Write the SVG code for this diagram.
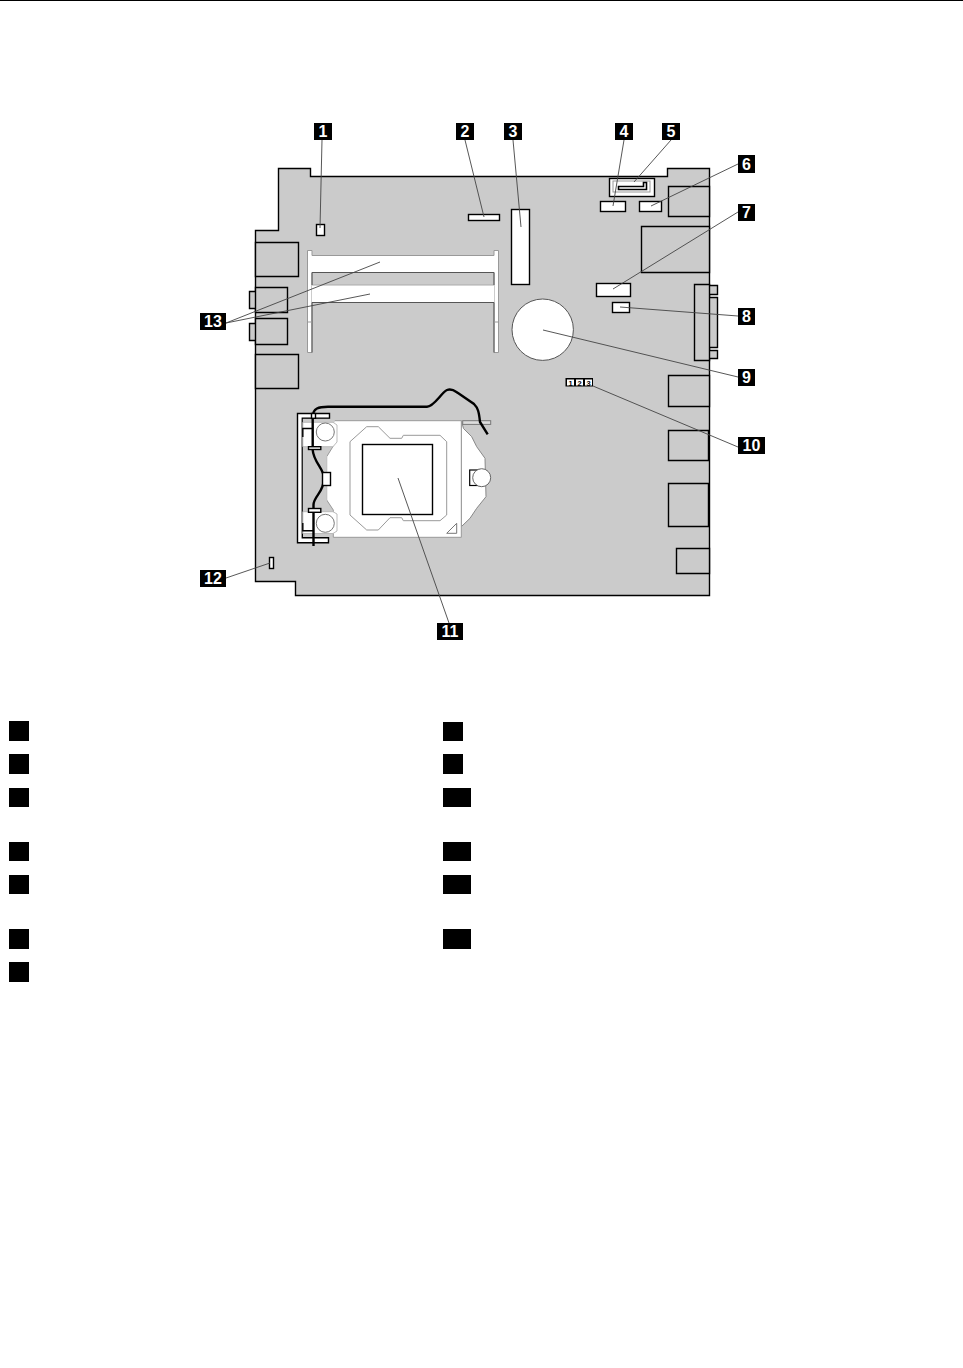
<svg xmlns="http://www.w3.org/2000/svg" width="963" height="1368" viewBox="0 0 963 1368">
<style>
.b{fill:#cbcbcb;stroke:#000;stroke-width:1.4}
.w{fill:#fff;stroke:#000;stroke-width:1.4}
.g{fill:#fff;stroke:#999;stroke-width:1}
.d{fill:none;stroke:#555;stroke-width:1}
.wire{fill:none;stroke:#000;stroke-width:2.4}
.l{fill:none;stroke:#444;stroke-width:.9}
.t{font:bold 16px "Liberation Sans",Arial,sans-serif;fill:#fff;text-anchor:middle}
.s{font:bold 7.5px "Liberation Sans",Arial,sans-serif;fill:#000;text-anchor:middle}
</style>
<rect width="963" height="1368" fill="#fff"/>
<rect x="0" y="0" width="963" height="1" fill="#000"/>
<g id="board">
<path class="b" d="M278.5 168.5H310.5V176.5H667.5V168.5H709.5V595.5H295.5V581.5H255.5V230.5H278.5Z"/>
<path class="b" d="M255.5 242.5H298.5V276.5H255.5ZM255.5 287.5H287.5V312.5H255.5ZM249.5 291.5H255.5V308.5H249.5ZM255.5 318.5H287.5V344.5H255.5ZM249.5 323.5H255.5V340.5H249.5ZM255.5 354.5H298.5V388.5H255.5ZM668.5 186.5H709.5V216.5H668.5ZM641.5 226.5H709.5V272.5H641.5ZM694.5 284.5H709.5V360.5H694.5ZM709.5 285.5H717.5V294.5H709.5ZM709.5 297.5H717.5V347.5H709.5ZM709.5 350.5H717.5V358.5H709.5ZM668.5 375.5H709.5V406.5H668.5ZM668.5 430.5H708.5V460.5H668.5ZM668.5 483.5H708.5V526.5H668.5ZM676.5 548.5H709.5V573.5H676.5Z"/>
</g>
<g id="memory">
<path class="g" d="M307.5 352.5V250.5H312V255.5H494V250.5H498.5V352.5H494V272.5H312V352.5Z"/>
<rect x="312" y="285" width="182" height="17.5" fill="#fff"/>
<path d="M312 285H494" stroke="#aaa" fill="none"/>
<path class="d" d="M312 272.5H494M312 302.5H494M312 272.5V285M494 272.5V285M312 302.5V352.5M494 302.5V352.5"/>
<path d="M307.5 322H312M494 322H498.5" stroke="#999" fill="none"/>
</g>
<g id="components">
<rect class="w" x="316.5" y="224.5" width="8" height="11"/>
<rect class="w" x="468.5" y="214.5" width="31" height="6"/>
<rect class="w" x="511.5" y="209.5" width="18" height="75"/>
<rect class="w" x="609.5" y="178.5" width="45" height="18"/>
<rect x="613" y="181" width="37" height="11" fill="#fff" stroke="#999"/>
<path d="M618.5 186.5H643.5V182.5H646.5V189.5H618.5Z" fill="#fff" stroke="#000" stroke-width="1.6"/>
<rect class="w" x="600.5" y="201.5" width="25" height="10"/>
<rect class="w" x="639.5" y="201.5" width="22" height="10"/>
<rect class="w" x="596.5" y="283.5" width="34" height="13"/>
<rect class="w" x="612.5" y="302.5" width="17" height="10"/>
<circle cx="542.7" cy="329.7" r="30.7" fill="#fff" stroke="#555"/>
<rect class="w" x="269.5" y="557.5" width="4" height="11"/>
<rect x="565.5" y="378" width="27.5" height="8.5" fill="#000"/>
<rect x="567" y="379.5" width="7" height="6" fill="#fff"/>
<rect x="576" y="379.5" width="7" height="6" fill="#fff"/>
<rect x="585" y="379.5" width="7" height="6" fill="#fff"/>
<text class="s" x="570.5" y="385.5">1</text>
<text class="s" x="579.5" y="385.5">2</text>
<text class="s" x="588.5" y="385.5">3</text>
</g>
<g id="cpu-socket">
<path d="M461.3 420.7L463.5 428.5L471.7 436.7L476.7 446.7L485 458.3L486 496.7L476.7 508.3L470 518.3L461.3 526.7Z" fill="#fff" stroke="#888"/>
<path d="M333.3 420.7H461.3V537.3H333.3V510L326.7 500V456.7L333.3 446Z" fill="#fff" stroke="#999" stroke-width="1"/>
<path d="M350 441.7L366.7 426.7H378.3L390 438.3H401.7L403.3 435.3H440L446.7 441.7V515L440 520.7H403.3L401.7 517.7H390L378.3 530H366.7L350 515Z" fill="#fff" stroke="#999"/>
<rect x="362.5" y="444.5" width="70" height="70" fill="#fff" stroke="#000" stroke-width="1.4"/>
<path d="M446.7 533.3L456.7 523.3V533.3Z" fill="#fff" stroke="#777"/>
<rect x="469.7" y="470" width="10" height="15.5" fill="#fff" stroke="#000" stroke-width="1.2"/>
<circle cx="481.7" cy="477.7" r="9" fill="#fff" stroke="#666"/>
<rect x="462.7" y="420.7" width="28" height="3.7" fill="#ddd" stroke="#777"/>
<path class="w" d="M297.5 413.5H329.5V418.3H302.3V537.7H328.5V542.7H297.5Z"/>
<rect x="302.8" y="418.8" width="32" height="3.5" fill="#cbcbcb"/>
<rect x="302.8" y="446.7" width="24" height="65" fill="#cbcbcb"/>
<path d="M302.8 422.3H333L337 425V442L333 446.7H302.8Z" fill="#fff" stroke="#bbb"/>
<path d="M302.8 511.7H333L337 514V531L333 533.5H302.8Z" fill="#fff" stroke="#bbb"/>
<circle cx="325.3" cy="432" r="9" fill="#fff" stroke="#777"/>
<circle cx="325.3" cy="523.3" r="9" fill="#fff" stroke="#777"/>
<path d="M302.8 437V428.5H312.5M302.8 523V530.7H313" fill="none" stroke="#000" stroke-width="1.4"/>
<path class="wire" d="M313.5 546V505C313.5 496 324 493 324 478C324 469 313.5 462 312.7 450V417C312.7 408 319 406.7 328 406.7H427C434 406.7 441 393 447 390C452 388 455 391 458 393L474 404C478 408 479 412 480 422L487.7 434.3"/>
<rect class="w" x="308.5" y="446.7" width="12.3" height="2.8"/>
<rect class="w" x="308.5" y="508.5" width="12.3" height="3.8"/>
<rect class="w" x="322.5" y="472.5" width="8" height="13"/>
<rect class="w" x="311.5" y="413.5" width="4" height="4.8"/>
</g>
<g id="connectors">
<path class="l" d="M322 140L320 228"/>
<path class="l" d="M465 140L484 217"/>
<path class="l" d="M513 140L521 227"/>
<path class="l" d="M624 140L613 206"/>
<path class="l" d="M671 140L634 182"/>
<path class="l" d="M738 164L651 206"/>
<path class="l" d="M738 212L613 289"/>
<path class="l" d="M738 316L620 307"/>
<path class="l" d="M738 377L543 330"/>
<path class="l" d="M738 447L593 386"/>
<path class="l" d="M449 623L398 478"/>
<path class="l" d="M226 578L270 563"/>
<path class="l" d="M226 323L380 262"/>
<path class="l" d="M226 323L370 294"/>
</g>
<g id="label-1"><rect x="314" y="123" width="18" height="17"/><text class="t" x="323" y="137">1</text></g>
<g id="label-2"><rect x="456" y="123" width="18" height="17"/><text class="t" x="465" y="137">2</text></g>
<g id="label-3"><rect x="504" y="123" width="18" height="17"/><text class="t" x="513" y="137">3</text></g>
<g id="label-4"><rect x="615" y="123" width="18" height="17"/><text class="t" x="624" y="137">4</text></g>
<g id="label-5"><rect x="662" y="123" width="18" height="17"/><text class="t" x="671" y="137">5</text></g>
<g id="label-6"><rect x="738" y="155" width="17" height="18"/><text class="t" x="746.5" y="170">6</text></g>
<g id="label-7"><rect x="738" y="204" width="17" height="17"/><text class="t" x="746.5" y="218">7</text></g>
<g id="label-8"><rect x="738" y="308" width="17" height="17"/><text class="t" x="746.5" y="322">8</text></g>
<g id="label-9"><rect x="738" y="369" width="17" height="17"/><text class="t" x="746.5" y="383">9</text></g>
<g id="label-10"><rect x="738" y="437" width="27" height="17"/><text class="t" x="751.5" y="451">10</text></g>
<g id="label-11"><rect x="437" y="623" width="26" height="17"/><text class="t" x="450" y="637">11</text></g>
<g id="label-12"><rect x="200" y="570" width="26" height="17"/><text class="t" x="213" y="584">12</text></g>
<g id="label-13"><rect x="200" y="313" width="26" height="17"/><text class="t" x="213" y="327">13</text></g>
<g id="legend">
<rect x="9" y="721" width="20" height="20"/><rect x="9" y="754" width="20" height="20"/><rect x="9" y="788" width="20" height="19"/><rect x="9" y="842" width="20" height="19"/><rect x="9" y="875" width="20" height="19"/><rect x="9" y="929" width="20" height="20"/><rect x="9" y="962" width="20" height="20"/>
<rect x="443" y="722" width="20" height="19"/><rect x="443" y="754" width="20" height="20"/><rect x="443" y="788" width="28" height="19"/><rect x="443" y="842" width="28" height="19"/><rect x="443" y="875" width="28" height="19"/><rect x="443" y="929" width="28" height="20"/>
</g>
</svg>
